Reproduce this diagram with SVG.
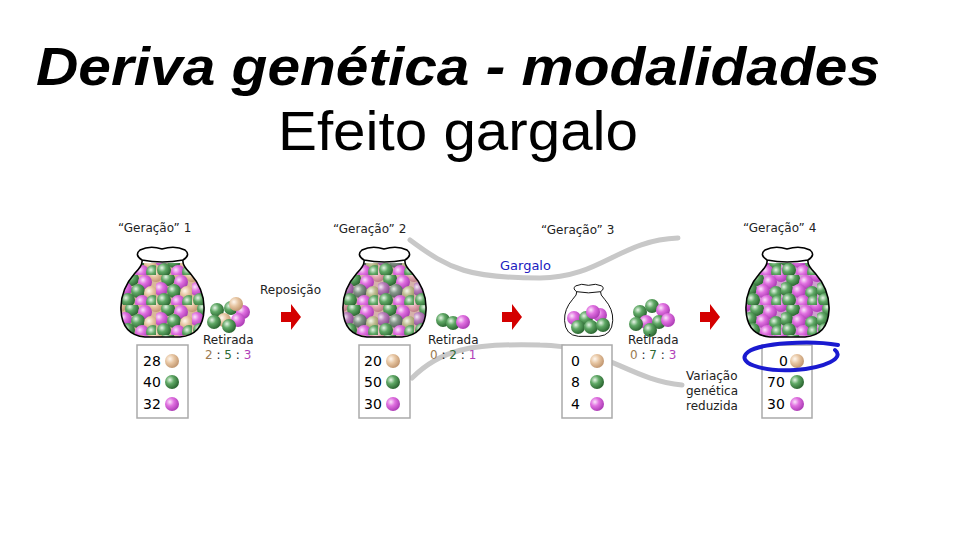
<svg xmlns="http://www.w3.org/2000/svg" width="960" height="540" viewBox="0 0 960 540">
<style>
.t{font-family:"Liberation Sans",Arial,sans-serif;fill:#000}
.s{font-family:"DejaVu Sans",sans-serif;font-size:12px;fill:#222}
.n{font-family:"DejaVu Sans",sans-serif;font-size:14px;fill:#000}
.bag{fill:none;stroke:#000;stroke-width:1.6}
.box{fill:#fff;stroke:#aaa;stroke-width:1.5}
.curve{fill:none;stroke:#c8c8c8;stroke-width:5;stroke-linecap:round}
</style>
<defs>
<radialGradient id="gG" cx="35%" cy="35%" r="65%"><stop offset="0" stop-color="#e8f5e8"/><stop offset="0.45" stop-color="#5fa865"/><stop offset="1" stop-color="#2e6a34"/></radialGradient>
<radialGradient id="gP" cx="35%" cy="35%" r="65%"><stop offset="0" stop-color="#fbe6fb"/><stop offset="0.45" stop-color="#e070e0"/><stop offset="1" stop-color="#b040b8"/></radialGradient>
<radialGradient id="gB" cx="35%" cy="35%" r="65%"><stop offset="0" stop-color="#fff8f0"/><stop offset="0.5" stop-color="#e6c4a0"/><stop offset="1" stop-color="#c49a74"/></radialGradient>
<circle id="bG" r="7" fill="url(#gG)"/>
<circle id="bP" r="7" fill="url(#gP)"/>
<circle id="bB" r="7" fill="url(#gB)"/>
<pattern id="mix" width="36" height="30" patternUnits="userSpaceOnUse">
<rect width="36" height="30" fill="#d9b89a"/>
<use href="#bB" x="0" y="0"/><use href="#bB" x="36" y="0"/><use href="#bB" x="0" y="30"/><use href="#bB" x="36" y="30"/>
<use href="#bG" x="12" y="4"/><use href="#bP" x="25" y="7"/><use href="#bP" x="5" y="14"/><use href="#bG" x="18" y="16"/><use href="#bB" x="31" y="18"/><use href="#bG" x="8" y="25"/><use href="#bP" x="22" y="27"/><use href="#bG" x="33" y="27"/>
</pattern>
<pattern id="mix2" width="36" height="30" patternUnits="userSpaceOnUse">
<rect width="36" height="30" fill="#cf9fcf"/>
<use href="#bP" x="0" y="0"/><use href="#bP" x="36" y="0"/><use href="#bP" x="0" y="30"/><use href="#bP" x="36" y="30"/>
<use href="#bG" x="12" y="4"/><use href="#bP" x="25" y="7"/><use href="#bG" x="5" y="14"/><use href="#bP" x="18" y="16"/><use href="#bG" x="31" y="18"/><use href="#bG" x="8" y="25"/><use href="#bP" x="22" y="27"/><use href="#bG" x="33" y="27"/>
</pattern>
<clipPath id="body"><path d="M15,28 Q23,20 22,15 L63,15 Q62,20 70,28 Q85,45 84,65 Q83,90 60,92 L25,92 Q2,90 1,65 Q0,45 15,28 Z"/></clipPath>
<g id="bag"><path class="bag" d="M20,5 Q30,0 42,4 Q55,0 65,5 Q71,10 63,15 Q62,20 70,28 Q85,45 84,65 Q83,90 60,92 L25,92 Q2,90 1,65 Q0,45 15,28 Q23,20 22,15 Q14,10 20,5 Z M22,15 Q42,19 63,15"/></g>
<path id="arrow" d="M0,-5 L10,-5 L10,-13 L20,0 L10,13 L10,5 L0,5 Z" fill="#d40000"/>
</defs>
<text class="t" x="36" y="85" font-size="54" font-weight="bold" font-style="italic" textLength="844" lengthAdjust="spacingAndGlyphs">Deriva genética - modalidades</text>
<text class="t" x="278" y="150" font-size="56" textLength="360" lengthAdjust="spacingAndGlyphs">Efeito gargalo</text>

<g id="connectors">
<path class="curve" d="M410,240 C450,270 470,278 540,278 C600,278 620,240 678,238"/>
<path class="curve" d="M412,378 C440,350 470,343 540,345 C600,345 630,380 682,385"/>
<use href="#arrow" x="281" y="317"/>
<use href="#arrow" x="502" y="317"/>
<use href="#arrow" x="700" y="317"/>
</g>
<text x="500" y="270" font-family="DejaVu Sans,sans-serif" font-size="13" fill="#2020c0">Gargalo</text>
<text class="s" x="260" y="294">Reposição</text>

<g id="gen1">
<text class="s" x="118" y="232" font-size="13">“Geração” 1</text>
<g transform="translate(120,245)"><rect y="18" width="86" height="76" fill="url(#mix)" clip-path="url(#body)"/><use href="#bag"/></g>
<rect class="box" x="137" y="345" width="51" height="73"/>
<text class="n" x="143" y="366">28</text><text class="n" x="143" y="387">40</text><text class="n" x="143" y="409">32</text>
<use href="#bB" x="172" y="361"/><use href="#bG" x="172" y="382"/><use href="#bP" x="172" y="404"/>
<g><use href="#bG" x="217" y="310"/><use href="#bG" x="231" y="308"/><use href="#bP" x="243" y="312"/><use href="#bB" x="224" y="320"/><use href="#bP" x="238" y="320"/><use href="#bG" x="214" y="322"/><use href="#bG" x="229" y="326"/><use href="#bB" x="236" y="304"/></g>
<text class="s" x="203" y="344">Retirada</text>
<text class="s" x="205" y="359" font-size="13"><tspan fill="#9a7a50">2</tspan> : <tspan fill="#2e6a34">5</tspan> : <tspan fill="#b040b8">3</tspan></text>
</g>

<g id="gen2">
<text class="s" x="333" y="233" font-size="13">“Geração” 2</text>
<g transform="translate(342,245)"><rect y="18" width="86" height="76" fill="url(#mix2)" clip-path="url(#body)"/><rect y="18" width="86" height="76" fill="url(#mix)" opacity="0.7" clip-path="url(#body)"/><use href="#bag"/></g>
<rect class="box" x="359" y="345" width="51" height="73"/>
<text class="n" x="364" y="366">20</text><text class="n" x="364" y="387">50</text><text class="n" x="364" y="409">30</text>
<use href="#bB" x="393" y="361"/><use href="#bG" x="393" y="382"/><use href="#bP" x="393" y="404"/>
<use href="#bG" x="443" y="320"/><use href="#bG" x="453" y="323"/><use href="#bP" x="463" y="322"/>
<text class="s" x="428" y="344">Retirada</text>
<text class="s" x="430" y="359" font-size="13"><tspan fill="#9a7a50">0</tspan> : <tspan fill="#2e6a34">2</tspan> : <tspan fill="#b040b8">1</tspan></text>
</g>

<g id="gen3">
<text class="s" x="541" y="234" font-size="13">“Geração” 3</text>
<g><use href="#bP" x="574" y="318"/><use href="#bG" x="586" y="318"/><use href="#bP" x="600" y="315"/><use href="#bG" x="578" y="327"/><use href="#bG" x="591" y="327"/><use href="#bG" x="603" y="325"/><use href="#bP" x="593" y="312"/></g>
<g transform="translate(564,283) scale(0.58)"><use href="#bag"/></g>
<rect class="box" x="562" y="345" width="50" height="73"/>
<text class="n" x="571" y="366">0</text><text class="n" x="571" y="387">8</text><text class="n" x="571" y="409">4</text>
<use href="#bB" x="597" y="361"/><use href="#bG" x="597" y="382"/><use href="#bP" x="597" y="404"/>
<g><use href="#bG" x="640" y="312"/><use href="#bG" x="652" y="306"/><use href="#bP" x="663" y="310"/><use href="#bP" x="646" y="322"/><use href="#bG" x="659" y="322"/><use href="#bG" x="636" y="324"/><use href="#bP" x="668" y="320"/><use href="#bG" x="650" y="330"/></g>
<text class="s" x="628" y="344">Retirada</text>
<text class="s" x="630" y="359" font-size="13"><tspan fill="#9a7a50">0</tspan> : <tspan fill="#2e6a34">7</tspan> : <tspan fill="#b040b8">3</tspan></text>
<text class="s" x="686" y="380" font-size="11">Variação</text>
<text class="s" x="686" y="395" font-size="11">genética</text>
<text class="s" x="686" y="410" font-size="11">reduzida</text>
</g>

<g id="gen4">
<text class="s" x="743" y="232" font-size="13">“Geração” 4</text>
<g transform="translate(745,245)"><rect y="18" width="86" height="76" fill="url(#mix2)" clip-path="url(#body)"/><use href="#bag"/></g>
<rect class="box" x="762" y="345" width="50" height="73"/>
<text class="n" x="779" y="366">0</text><text class="n" x="767" y="387">70</text><text class="n" x="767" y="409">30</text>
<use href="#bB" x="797" y="361"/><use href="#bG" x="797" y="382"/><use href="#bP" x="797" y="404"/>
<path d="M838,345 C810,340 760,343 748,352 C735,362 760,372 795,370 C825,368 845,358 835,350" fill="none" stroke="#1a1ad0" stroke-width="4" stroke-linecap="round"/>
</g>
</svg>
